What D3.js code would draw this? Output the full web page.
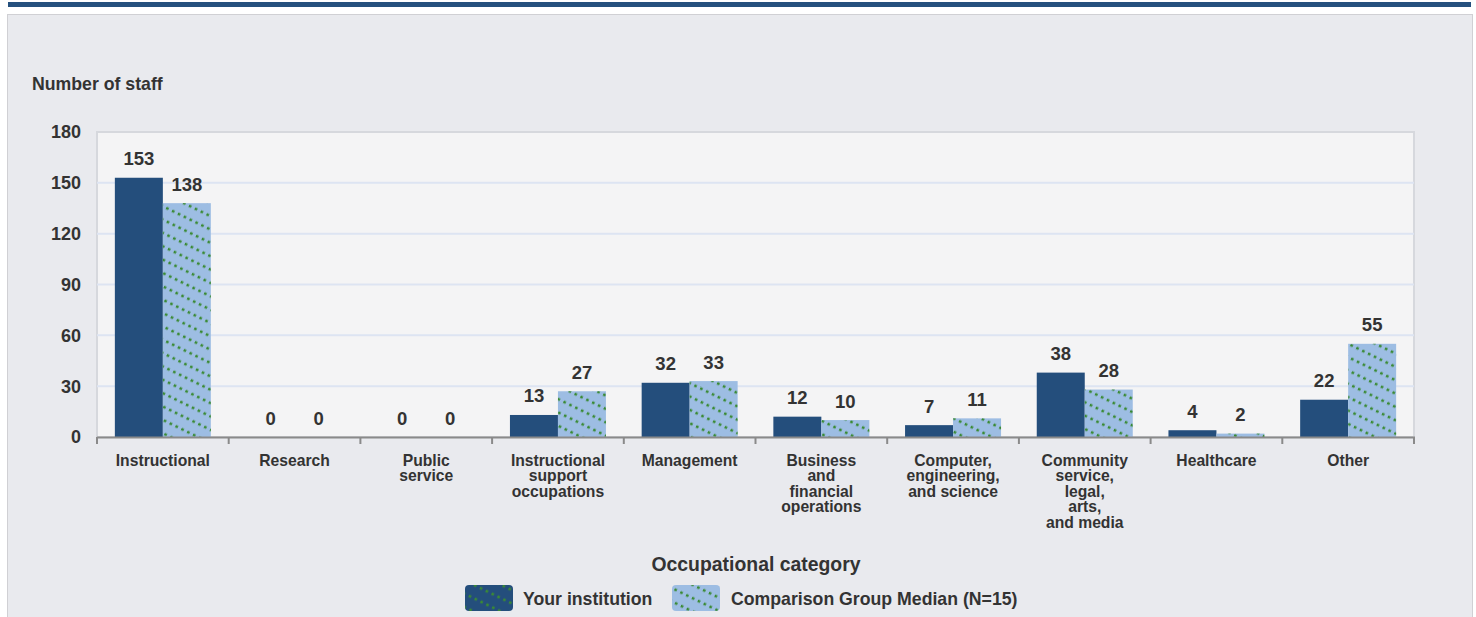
<!DOCTYPE html>
<html><head><meta charset="utf-8">
<script src="https://cdn.jsdelivr.net/npm/d3@7"></script>
<style>
html,body{margin:0;padding:0;background:#fff;}
svg{display:block;font-family:"Liberation Sans",Arial,sans-serif;}
</style></head><body>
<svg id="c" width="1476" height="617"></svg>
<script>
const categories = [
  ["Instructional"],
  ["Research"],
  ["Public","service"],
  ["Instructional","support","occupations"],
  ["Management"],
  ["Business","and","financial","operations"],
  ["Computer,","engineering,","and science"],
  ["Community","service,","legal,","arts,","and media"],
  ["Healthcare"],
  ["Other"]
];
const yourInstitution = [153, 0, 0, 13, 32, 12, 7, 38, 4, 22];
const comparisonMedian = [138, 0, 0, 27, 33, 10, 11, 28, 2, 55];
const seriesNames = ["Your institution", "Comparison Group Median (N=15)"];
const yTicks = [0, 30, 60, 90, 120, 150, 180];

const svg = d3.select("#c");
const dark = "#244e7c", light = "#9dbde3", green = "#3a8a34", txt = "#333";

const defs = svg.append("defs");
const pat = defs.append("pattern").attr("id","hatch").attr("patternUnits","userSpaceOnUse")
  .attr("width",6.5).attr("height",12).attr("patternTransform","rotate(26)");
pat.append("line").attr("x1",0).attr("x2",6.5).attr("y1",6).attr("y2",6)
  .attr("stroke",green).attr("stroke-width",2.6).attr("stroke-dasharray","2.6 3.9");

// top band
svg.append("rect").attr("x",8).attr("y",2).attr("width",1463).attr("height",5).attr("fill","#25507e");
// panel
svg.append("rect").attr("x",7.5).attr("y",14.5).attr("width",1465).attr("height",610)
  .attr("fill","#e9eaee").attr("stroke","#d0d0d4").attr("stroke-width",1);

const m = {l:97, r:1414, t:132, b:437};
const x = d3.scaleBand().domain(d3.range(categories.length)).range([m.l, m.r]).paddingInner(0).paddingOuter(0);
const inner = d3.scaleBand().domain([0,1]).range([0, x.bandwidth()]).paddingOuter(0.372).paddingInner(0);
const y = d3.scaleLinear().domain([0,180]).range([m.b, m.t]);

// plot background
svg.append("rect").attr("x",m.l).attr("y",m.t).attr("width",m.r-m.l).attr("height",m.b-m.t)
  .attr("fill","#f4f4f5").attr("stroke","#d6d8dd").attr("stroke-width",2);

// gridlines
svg.append("g").selectAll("line").data(yTicks.filter(d=>d>0 && d<180)).join("line")
  .attr("x1",m.l).attr("x2",m.r).attr("y1",d=>y(d)).attr("y2",d=>y(d))
  .attr("stroke","#dde4f2").attr("stroke-width",2);

// y labels
svg.append("g").selectAll("text").data(yTicks).join("text")
  .attr("x",81).attr("y",d=>y(d)).attr("dy","0.36em").attr("text-anchor","end")
  .attr("font-size",18).attr("font-weight","bold").attr("fill",txt).text(d=>d);

svg.append("text").attr("x",32).attr("y",90).attr("font-size",17.7).attr("font-weight","bold")
  .attr("fill",txt).text("Number of staff");

const series = [yourInstitution, comparisonMedian];
series.forEach((vals, s) => {
  const g = svg.append("g");
  g.selectAll("rect").data(vals).join("rect")
    .attr("x",(d,i)=>x(i)+inner(s)).attr("width",inner.bandwidth())
    .attr("y",d=>y(d)).attr("height",d=>y(0)-y(d))
    .attr("fill", s===0 ? dark : light);
  if (s===1) {
    g.selectAll("rect.h").data(vals).join("rect").attr("class","h")
      .attr("x",(d,i)=>x(i)+inner(s)).attr("width",inner.bandwidth())
      .attr("y",d=>y(d)).attr("height",d=>y(0)-y(d))
      .attr("fill","url(#hatch)");
  }
  g.selectAll("text").data(vals).join("text")
    .attr("x",(d,i)=>x(i)+inner(s)+inner.bandwidth()/2).attr("y",d=>y(d)-12.5)
    .attr("text-anchor","middle").attr("font-size",18.5).attr("font-weight","bold")
    .attr("fill",txt).text(d=>d);
});

// x axis line and ticks
const xa = svg.append("g").attr("stroke","#8a8a8a").attr("stroke-width",2);
xa.append("line").attr("x1",m.l).attr("x2",m.r+1).attr("y1",m.b+0.5).attr("y2",m.b+0.5);
xa.selectAll("line.t").data(d3.range(categories.length+1)).join("line").attr("class","t")
  .attr("x1",i=>i<categories.length?x(i):m.r).attr("x2",i=>i<categories.length?x(i):m.r)
  .attr("y1",m.b).attr("y2",m.b+7);

// category labels
const cl = svg.append("g").selectAll("text").data(categories).join("text")
  .attr("text-anchor","middle").attr("font-size",15.7).attr("font-weight","bold").attr("fill",txt);
cl.each(function(lines,i){
  const t = d3.select(this);
  lines.forEach((ln,j)=>{
    t.append("tspan").attr("x",x(i)+x.bandwidth()/2).attr("y",465.5+j*15.5).text(ln);
  });
});

svg.append("text").attr("x",756).attr("y",571).attr("text-anchor","middle")
  .attr("font-size",19.4).attr("font-weight","bold").attr("fill",txt).text("Occupational category");

// legend
const leg = [{x:465, c:dark, tx:523},{x:672, c:light, tx:731}];
leg.forEach((l,i)=>{
  svg.append("rect").attr("x",l.x).attr("y",585).attr("width",48).attr("height",26).attr("rx",4).attr("fill",l.c);
  svg.append("rect").attr("x",l.x).attr("y",585).attr("width",48).attr("height",26).attr("rx",4).attr("fill","url(#hatch)");
  svg.append("text").attr("x",l.tx).attr("y",604.5).attr("font-size",17.7).attr("font-weight","bold")
    .attr("fill",txt).text(seriesNames[i]);
});
</script>
</body></html>
